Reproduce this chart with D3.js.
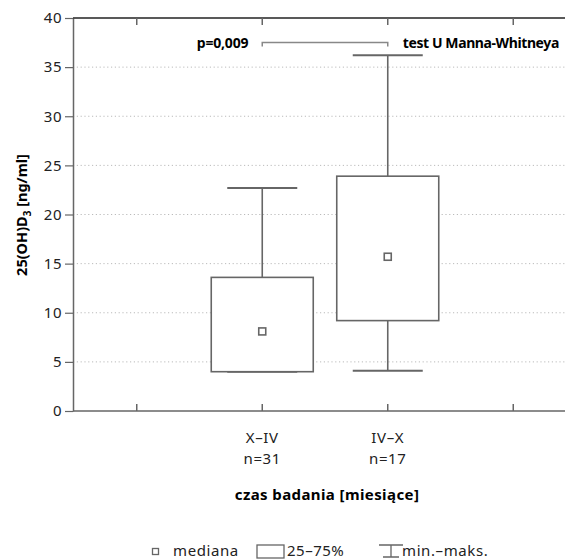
<!DOCTYPE html>
<html>
<head>
<meta charset="utf-8">
<script src="https://cdn.jsdelivr.net/npm/d3@7"></script>
<style>
  body { margin: 0; background: #fff; }
  text { font-family: "Noto Sans", "Open Sans", sans-serif; }
</style>
</head>
<body>
<svg id="chart" width="565" height="560"></svg>
<script>
// data
const groups = ["X–IV", "IV–X"]
const counts = ["n=31", "n=17"]
const mins = [4.0, 4.1]
const q1s = [4.0, 9.2]
const medians = [8.1, 15.7]
const q3s = [13.6, 23.9]
const maxs = [22.7, 36.2]
const yTicks = [0, 5, 10, 15, 20, 25, 30, 35, 40]
const pText = "p=0,009"
const testText = "test U Manna-Whitneya"
const pLevel = 37.5

const svg = d3.select("#chart")
const mLeft = 73, mRight = 565, mTop = 18, mBottom = 411
const grey = "#666"
const ink = "#222"

const y = d3.scaleLinear().domain([0, 40]).range([mBottom, mTop])
// four slots, groups in the middle two
const x = d3.scaleBand().domain(["a", ...groups, "b"]).range([74, 576])
const cx = g => x(g) + x.bandwidth() / 2

// grid
svg.append("g").selectAll("line")
  .data(yTicks.filter(t => t > 0 && t < 40))
  .enter().append("line")
    .attr("x1", mLeft).attr("x2", mRight)
    .attr("y1", d => y(d)).attr("y2", d => y(d))
    .attr("stroke", "#bbb")
    .attr("stroke-dasharray", "1.2,2.6")

// left axis
let yAxis = svg.append("g")
  .attr("transform", `translate(${mLeft},0)`)
  .call(d3.axisLeft(y).tickValues(yTicks).tickSize(8).tickPadding(3).tickSizeOuter(0))
yAxis.select(".domain").attr("stroke", grey).attr("stroke-width", 1.5)
yAxis.selectAll(".tick line").attr("stroke", grey).attr("stroke-width", 1.2)
yAxis.selectAll(".tick text").attr("fill", ink).style("font-size", "15px")
  .style("font-family", "'Noto Sans', sans-serif").style("letter-spacing", "0.5px")

// top and bottom lines with inward ticks
const tickXs = x.domain().map(cx)
svg.append("line").attr("x1", mLeft).attr("x2", mRight).attr("y1", mTop).attr("y2", mTop)
  .attr("stroke", "#222").attr("stroke-width", 1.5)
svg.append("line").attr("x1", mLeft).attr("x2", mRight).attr("y1", mBottom).attr("y2", mBottom)
  .attr("stroke", grey).attr("stroke-width", 1.5)
tickXs.forEach(t => {
  svg.append("line").attr("x1", t).attr("x2", t).attr("y1", mTop).attr("y2", mTop + 7)
    .attr("stroke", grey).attr("stroke-width", 1.5)
  svg.append("line").attr("x1", t).attr("x2", t).attr("y1", mBottom).attr("y2", mBottom - 7)
    .attr("stroke", grey).attr("stroke-width", 1.5)
})

// boxes
const boxW = 102, capW = 70
groups.forEach((g, i) => {
  let c = cx(g)
  let b = svg.append("g").attr("stroke", grey).attr("stroke-width", 1.6).attr("fill", "none")
  b.append("line").attr("x1", c).attr("x2", c).attr("y1", y(maxs[i])).attr("y2", y(q3s[i]))
  b.append("line").attr("x1", c).attr("x2", c).attr("y1", y(q1s[i])).attr("y2", y(mins[i]))
  b.append("line").attr("x1", c - capW / 2).attr("x2", c + capW / 2).attr("y1", y(maxs[i])).attr("y2", y(maxs[i])).attr("stroke-width", 2)
  b.append("line").attr("x1", c - capW / 2).attr("x2", c + capW / 2).attr("y1", y(mins[i])).attr("y2", y(mins[i])).attr("stroke-width", 2)
  b.append("rect").attr("x", c - boxW / 2).attr("width", boxW)
    .attr("y", y(q3s[i])).attr("height", y(q1s[i]) - y(q3s[i])).attr("fill", "#fff")
  b.append("rect").attr("x", c - 3.5).attr("y", y(medians[i]) - 3.5).attr("width", 7).attr("height", 7).attr("fill", "#fff")

  svg.append("text").attr("x", c).attr("y", 443).attr("text-anchor", "middle")
    .style("font-size", "15px").style("letter-spacing", "0.6px").attr("fill", ink).text(g)
  svg.append("text").attr("x", c).attr("y", 464).attr("text-anchor", "middle")
    .style("font-size", "15px").style("letter-spacing", "0.6px").attr("fill", ink).text(counts[i])
})

// significance bracket
let x1 = cx(groups[0]), x2 = cx(groups[1]), py = y(pLevel)
svg.append("path")
  .attr("d", `M${x1},${py + 4}V${py}H${x2}V${py + 4}`)
  .attr("fill", "none").attr("stroke", "#888").attr("stroke-width", 1.5)
svg.append("text").attr("x", x1 - 14).attr("y", py + 5).attr("text-anchor", "end")
  .style("font-size", "14px").style("font-weight", "bold").style("letter-spacing", "-0.2px").text(pText)
svg.append("text").attr("x", x2 + 15).attr("y", py + 5)
  .style("font-size", "14px").style("font-weight", "bold").style("letter-spacing", "-0.4px").text(testText)

// axis titles
svg.append("text").attr("x", 327).attr("y", 500).attr("text-anchor", "middle")
  .style("font-size", "15px").style("font-weight", "bold").style("letter-spacing", "0.4px").text("czas badania [miesiące]")
let yl = svg.append("text").attr("transform", "translate(27,215) rotate(-90)").attr("text-anchor", "middle")
  .style("font-size", "14.5px").style("font-weight", "bold")
yl.append("tspan").text("25(OH)D")
yl.append("tspan").attr("dy", 4).style("font-size", "10px").text("3")
yl.append("tspan").attr("dy", -4).text(" [ng/ml]")

// legend
let lg = svg.append("g").attr("stroke", grey).attr("fill", "none").attr("stroke-width", 1.3)
lg.append("rect").attr("x", 152.5).attr("y", 548.5).attr("width", 6).attr("height", 6)
lg.append("rect").attr("x", 257).attr("y", 545).attr("width", 27).attr("height", 13)
lg.append("path").attr("d", "M379,545H403M391,545V557M383,557H399")
const legTxt = [["mediana", 173, 0.6], ["25–75%", 287, 0.5], ["min.–maks.", 402, 0.6]]
legTxt.forEach(d => {
  svg.append("text").attr("x", d[1]).attr("y", 556).style("font-size", "15px")
    .style("letter-spacing", d[2] + "px").attr("fill", ink).text(d[0])
})
</script>
</body>
</html>
